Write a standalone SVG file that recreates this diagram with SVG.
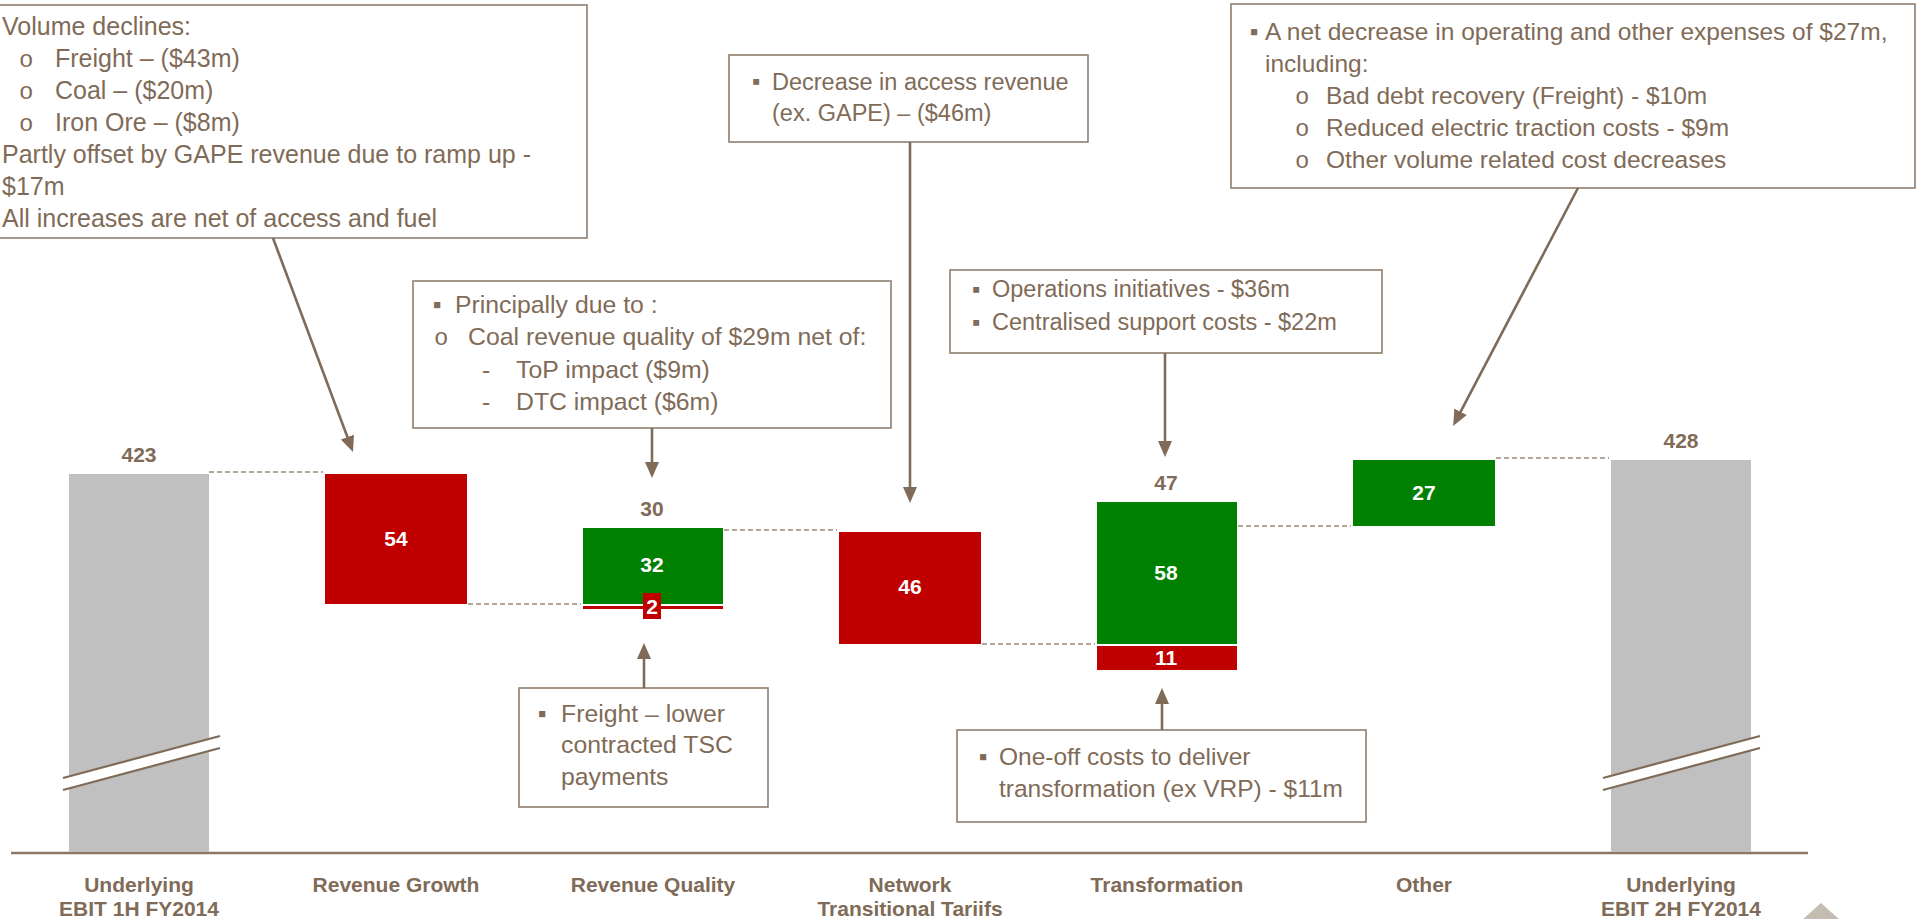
<svg xmlns="http://www.w3.org/2000/svg" width="1925" height="919" viewBox="0 0 1925 919">
<style>
.box{fill:#ffffff;stroke:#8f7f6e;stroke-width:1.6}
.t{font-family:"Liberation Sans",Arial,sans-serif;font-size:23.5px;fill:#7f6b57}
.t25{font-size:25px}
.t248{font-size:24.8px}
.t245{font-size:24.5px}
.ob{font-family:"Liberation Mono","Courier New",monospace;font-size:24px;fill:#7f6b57}
.v{font-family:"Liberation Sans",Arial,sans-serif;font-size:21px;font-weight:bold;text-anchor:middle}
.vb{fill:#7f6b57}
.vw{fill:#ffffff}
.cat{font-family:"Liberation Sans",Arial,sans-serif;font-size:21px;font-weight:bold;text-anchor:middle;fill:#7f6b57}
.gray{fill:#c0c0c0}
.red{fill:#c00000}
.green{fill:#008000}
.dash{stroke:#9c8b7a;stroke-width:1.5;stroke-dasharray:5 3;fill:none}
.arr{stroke:#7f6b57;stroke-width:2.6;fill:none;marker-end:url(#ah)}
.brk{stroke:#7f6b57;stroke-width:2.2;fill:none}
</style>
<defs>
<marker id="ah" viewBox="0 0 16 14" refX="12" refY="7" markerWidth="16" markerHeight="14" markerUnits="userSpaceOnUse" orient="auto">
<path d="M0,0 L16,7 L0,14 Z" fill="#7f6b57"/>
</marker>
</defs>
<rect x="0" y="0" width="1925" height="919" fill="#ffffff"/>

<g id="axis">
<line x1="11" y1="853" x2="1808" y2="853" stroke="#8b7763" stroke-width="2.5"/>
</g>

<g id="bar-ebit-1h">
<rect class="gray" x="69" y="474" width="140" height="378"/>
<polygon points="63,778 220,736 220,748 63,790" fill="#ffffff"/>
<line class="brk" x1="63" y1="778" x2="220" y2="736"/>
<line class="brk" x1="63" y1="790" x2="220" y2="748"/>
<text class="v vb" x="139" y="462">423</text>
<text class="cat" x="139" y="892">Underlying</text>
<text class="cat" x="139" y="916">EBIT 1H FY2014</text>
</g>

<g id="bar-revenue-growth">
<rect class="red" x="325" y="474" width="142" height="130"/>
<text class="v vw" x="396" y="546">54</text>
<text class="cat" x="396" y="892">Revenue Growth</text>
</g>

<g id="bar-revenue-quality">
<rect class="green" x="583" y="528" width="140" height="76"/>
<rect class="red" x="583" y="606" width="140" height="3"/>
<rect class="red" x="643" y="593" width="18" height="26"/>
<text class="v vb" x="652" y="516">30</text>
<text class="v vw" x="652" y="572">32</text>
<text class="v vw" x="652" y="614">2</text>
<text class="cat" x="653" y="892">Revenue Quality</text>
</g>

<g id="bar-network">
<rect class="red" x="839" y="532" width="142" height="112"/>
<text class="v vw" x="910" y="594">46</text>
<text class="cat" x="910" y="892">Network</text>
<text class="cat" x="910" y="916">Transitional Tariifs</text>
</g>

<g id="bar-transformation">
<rect class="green" x="1097" y="502" width="140" height="142"/>
<rect class="red" x="1097" y="646" width="140" height="24"/>
<text class="v vb" x="1166" y="490">47</text>
<text class="v vw" x="1166" y="580">58</text>
<text class="v vw" x="1166" y="665">11</text>
<text class="cat" x="1167" y="892">Transformation</text>
</g>

<g id="bar-other">
<rect class="green" x="1353" y="460" width="142" height="66"/>
<text class="v vw" x="1424" y="500">27</text>
<text class="cat" x="1424" y="892">Other</text>
</g>

<g id="bar-ebit-2h">
<rect class="gray" x="1611" y="460" width="140" height="392"/>
<polygon points="1603,778 1760,736 1760,748 1603,790" fill="#ffffff"/>
<line class="brk" x1="1603" y1="778" x2="1760" y2="736"/>
<line class="brk" x1="1603" y1="790" x2="1760" y2="748"/>
<text class="v vb" x="1681" y="448">428</text>
<text class="cat" x="1681" y="892">Underlying</text>
<text class="cat" x="1681" y="916">EBIT 2H FY2014</text>
</g>

<g id="note-volume">
<rect class="box" x="-2" y="5" width="589" height="233"/>
<text class="t t25" x="2" y="35">Volume declines:</text>
<text class="ob" x="19" y="67">o</text><text class="t t25" x="55" y="67">Freight – ($43m)</text>
<text class="ob" x="19" y="99">o</text><text class="t t25" x="55" y="99">Coal – ($20m)</text>
<text class="ob" x="19" y="131">o</text><text class="t t25" x="55" y="131">Iron Ore – ($8m)</text>
<text class="t t25" x="2" y="163">Partly offset by GAPE revenue due to ramp up -</text>
<text class="t t25" x="2" y="195">$17m</text>
<text class="t t25" x="2" y="227">All increases are net of access and fuel</text>
</g>

<g id="note-quality">
<rect class="box" x="413" y="281" width="478" height="147"/>
<text class="t t248" x="433" y="313">▪</text><text class="t t248" x="455" y="313">Principally due to :</text>
<text class="ob" x="434" y="345">o</text><text class="t t248" x="468" y="345">Coal revenue quality of $29m net of:</text>
<text class="t t248" x="482" y="378">-</text><text class="t t248" x="516" y="378">ToP impact ($9m)</text>
<text class="t t248" x="482" y="410">-</text><text class="t t248" x="516" y="410">DTC impact ($6m)</text>
</g>

<g id="note-access">
<rect class="box" x="729" y="55" width="359" height="87"/>
<text class="t" x="752" y="89">▪</text><text class="t" x="772" y="90">Decrease in access revenue</text>
<text class="t" x="772" y="121">(ex. GAPE) – ($46m)</text>
</g>

<g id="note-expenses">
<rect class="box" x="1231" y="4" width="684" height="184"/>
<text class="t t245" x="1250" y="40">▪</text><text class="t t245" x="1265" y="40">A net decrease in operating and other expenses of $27m,</text>
<text class="t t245" x="1265" y="72">including:</text>
<text class="ob" x="1295" y="104">o</text><text class="t t245" x="1326" y="104">Bad debt recovery (Freight) - $10m</text>
<text class="ob" x="1295" y="136">o</text><text class="t t245" x="1326" y="136">Reduced electric traction costs - $9m</text>
<text class="ob" x="1295" y="168">o</text><text class="t t245" x="1326" y="168">Other volume related cost decreases</text>
</g>

<g id="note-operations">
<rect class="box" x="950" y="270" width="432" height="83"/>
<text class="t" x="972" y="297">▪</text><text class="t" x="992" y="297">Operations initiatives - $36m</text>
<text class="t" x="972" y="330">▪</text><text class="t" x="992" y="330">Centralised support costs - $22m</text>
</g>

<g id="note-freight">
<rect class="box" x="519" y="688" width="249" height="119"/>
<text class="t t248" x="538" y="722">▪</text><text class="t t248" x="561" y="722">Freight – lower</text>
<text class="t t248" x="561" y="753">contracted TSC</text>
<text class="t t248" x="561" y="785">payments</text>
</g>

<g id="note-oneoff">
<rect class="box" x="957" y="730" width="409" height="92"/>
<text class="t t245" x="979" y="765">▪</text><text class="t t245" x="999" y="765">One-off costs to deliver</text>
<text class="t t245" x="999" y="797">transformation (ex VRP) - $11m</text>
</g>

<g id="connectors">
<line class="dash" x1="209" y1="472" x2="323" y2="472"/>
<line class="dash" x1="468" y1="604" x2="581" y2="604"/>
<line class="dash" x1="724" y1="530" x2="837" y2="530"/>
<line class="dash" x1="982" y1="644" x2="1095" y2="644"/>
<line class="dash" x1="1238" y1="526" x2="1351" y2="526"/>
<line class="dash" x1="1496" y1="458" x2="1609" y2="458"/>
<line class="arr" x1="273" y1="238" x2="351.6" y2="448.3"/>
<line class="arr" x1="652" y1="428" x2="652" y2="474"/>
<line class="arr" x1="910" y1="142" x2="910" y2="499"/>
<line class="arr" x1="1165" y1="353" x2="1165" y2="453"/>
<line class="arr" x1="1578" y1="188" x2="1455" y2="422.4"/>
<line class="arr" x1="644" y1="688" x2="644" y2="647"/>
<line class="arr" x1="1162" y1="730" x2="1162" y2="692"/>
</g>

<g id="nav-triangle">
<polygon points="1821,903 1801,921 1841,921" fill="#c4bbb1"/>
</g>
</svg>
